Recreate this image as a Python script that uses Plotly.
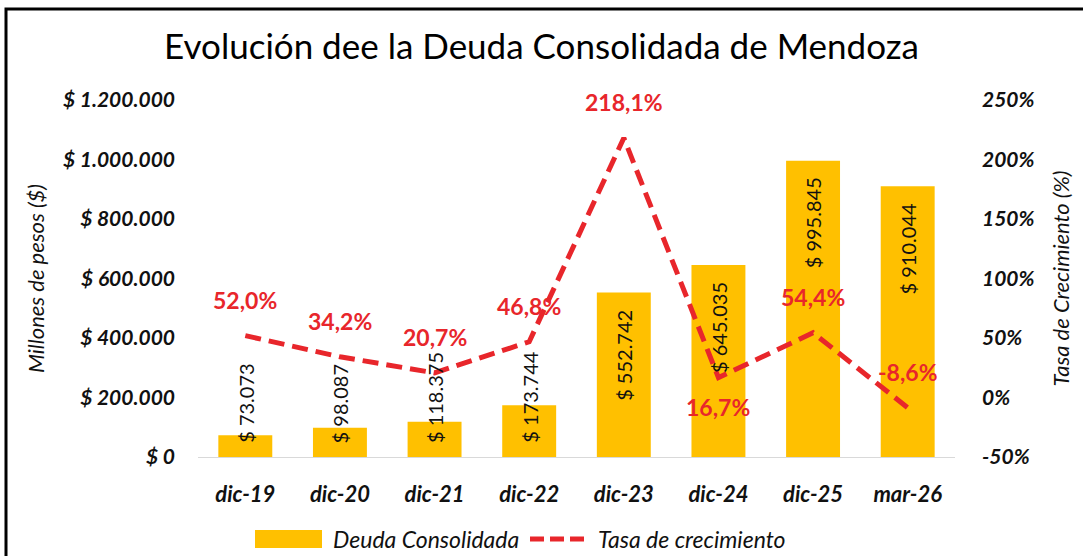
import plotly.graph_objects as go

categories = ["dic-19", "dic-20", "dic-21", "dic-22", "dic-23", "dic-24", "dic-25", "mar-26"]
deuda = [73073, 98087, 118375, 173744, 552742, 645035, 995845, 910044]
deuda_labels = ["$ 73.073", "$ 98.087", "$ 118.375", "$ 173.744", "$ 552.742", "$ 645.035", "$ 995.845", "$ 910.044"]
tasa = [52.0, 34.2, 20.7, 46.8, 218.1, 16.7, 54.4, -8.6]
tasa_labels = ["52,0%", "34,2%", "20,7%", "46,8%", "218,1%", "16,7%", "54,4%", "-8,6%"]
tasa_label_below = [False, False, False, False, False, True, False, False]

left_ticks = [0, 200000, 400000, 600000, 800000, 1000000, 1200000]
left_ticktext = ["$ 0", "$ 200.000", "$ 400.000", "$ 600.000", "$ 800.000", "$ 1.000.000", "$ 1.200.000"]
right_ticks = [-50, 0, 50, 100, 150, 200, 250]
right_ticktext = ["-50%", "0%", "50%", "100%", "150%", "200%", "250%"]

GOLD = "#FFC000"
RED = "#E8262B"
FONT = "Lato"
TXT = "#111111"

# plot area in pixels
L, R, T, B = 198, 955, 100, 457
W, H = 1083, 556


def px_x(p):
    return (p - L) / (R - L)


def px_y(p):
    return (B - p) / (B - T)


fig = go.Figure()
fig.add_trace(go.Bar(
    x=categories, y=deuda, name="Deuda Consolidada",
    marker=dict(color=GOLD, line=dict(width=0)),
    yaxis="y", showlegend=False,
))
fig.add_trace(go.Scatter(
    x=categories, y=tasa, name="Tasa de crecimiento",
    mode="lines", line=dict(color=RED, width=5, dash="16px,8px"),
    yaxis="y2", showlegend=False,
))

annotations = []
# bar value labels (rotated)
for c, v, t in zip(categories, deuda, deuda_labels):
    if v > 400000:
        annotations.append(dict(x=c, y=v, xref="x", yref="y", text=t, textangle=-90,
                                showarrow=False, yanchor="top", yshift=-15,
                                font=dict(family=FONT, size=20, color=TXT)))
    else:
        annotations.append(dict(x=c, y=0, xref="x", yref="y", text=t, textangle=-90,
                                showarrow=False, yanchor="bottom", yshift=12,
                                font=dict(family=FONT, size=20, color=TXT)))
# growth labels
for c, v, t, below in zip(categories, tasa, tasa_labels, tasa_label_below):
    annotations.append(dict(x=c, y=v, xref="x", yref="y2", text=t, showarrow=False,
                            yanchor="top" if below else "bottom",
                            yshift=-13 if below else 20,
                            font=dict(family=FONT, size=23, color=RED, weight="bold")))

# manual legend
annotations.append(dict(x=px_x(331), y=px_y(539), xref="paper", yref="paper",
                        text="<i>Deuda Consolidada</i>", showarrow=False,
                        xanchor="left", yanchor="middle",
                        font=dict(family=FONT, size=23, color=TXT)))
annotations.append(dict(x=px_x(596), y=px_y(539), xref="paper", yref="paper",
                        text="<i>Tasa de crecimiento</i>", showarrow=False,
                        xanchor="left", yanchor="middle",
                        font=dict(family=FONT, size=23, color=TXT)))

shapes = [
    # outer frame (partly cropped)
    dict(type="rect", xref="paper", yref="paper",
         x0=px_x(6), x1=px_x(1100), y0=px_y(600), y1=px_y(9),
         line=dict(color="black", width=3), fillcolor="rgba(0,0,0,0)", layer="below"),
    dict(type="rect", xref="paper", yref="paper",
         x0=px_x(255), x1=px_x(322), y0=px_y(548), y1=px_y(530),
         line=dict(width=0), fillcolor=GOLD),
    dict(type="line", xref="paper", yref="paper",
         x0=px_x(530), x1=px_x(588), y0=px_y(539), y1=px_y(539),
         line=dict(color=RED, width=5, dash="14px,6px")),
]

tickfont = dict(family=FONT, size=21, color=TXT, style="italic", weight="bold")

fig.update_layout(
    width=W, height=H,
    margin=dict(l=L, r=W - R, t=T, b=H - B, autoexpand=False),
    paper_bgcolor="white", plot_bgcolor="white",
    title=dict(text="Evolución dee la Deuda Consolidada de Mendoza",
               x=0.5, xref="container", xanchor="center",
               y=1 - 47 / H, yref="container", yanchor="middle", automargin=False,
               font=dict(family=FONT, size=35, color="black")),
    bargap=0.43,
    xaxis=dict(showgrid=False, showline=True, linecolor="#D9D9D9", linewidth=1,
               tickfont=dict(family=FONT, size=22, color=TXT, style="italic", weight="bold"),
               ticks="", ticklabelstandoff=18, automargin=False),
    yaxis=dict(range=[0, 1200000], tickvals=left_ticks, ticktext=left_ticktext,
               showgrid=False, zeroline=False, tickfont=tickfont, ticks="",
               ticklabelstandoff=22, automargin=False,
               title=dict(text="<i>Millones de pesos ($)</i>", standoff=12,
                          font=dict(family=FONT, size=22, color=TXT))),
    yaxis2=dict(range=[-50, 250], tickvals=right_ticks, ticktext=right_ticktext,
                overlaying="y", side="right", showgrid=False, zeroline=False,
                tickfont=tickfont, ticks="", ticklabelstandoff=26, automargin=False,
                title=dict(text="<i>Tasa de Crecimiento (%)</i>", standoff=20,
                           font=dict(family=FONT, size=22, color=TXT))),
    annotations=annotations,
    shapes=shapes,
    showlegend=False,
)

fig.write_html(
    "out.html",
    config={"displayModeBar": False},
    post_script="document.body.style.margin='0';document.body.style.overflow='hidden';",
)
